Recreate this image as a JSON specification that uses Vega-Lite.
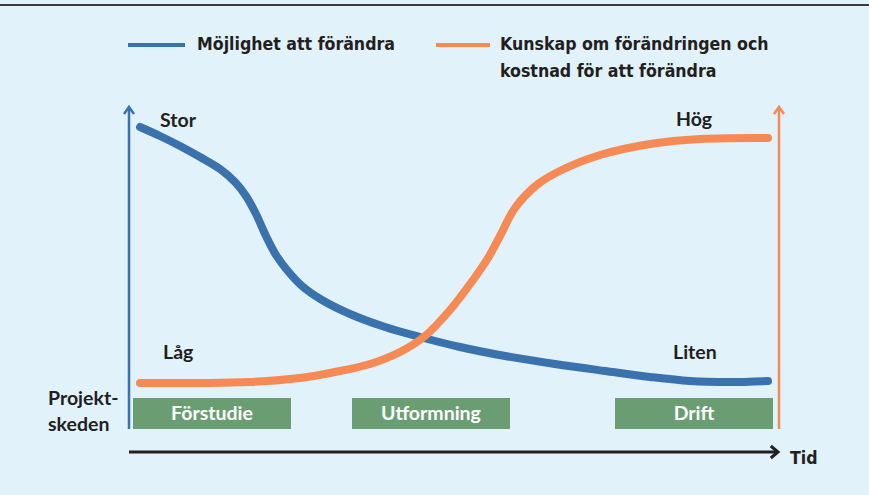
{
  "$schema": "https://vega.github.io/schema/vega-lite/v6.json",
  "width": 869,
  "height": 495,
  "padding": 0,
  "autosize": {"type": "none"},
  "background": "#e1f2fa",
  "config": {"view": {"stroke": null}},
  "encoding": {
    "x": {"field": "x", "type": "quantitative", "scale": {"domain": [0, 869], "range": [0, 869], "nice": false, "zero": false}, "axis": null},
    "y": {"field": "y", "type": "quantitative", "scale": {"domain": [0, 495], "range": [0, 495], "nice": false, "zero": false}, "axis": null}
  },
  "layer": [
    {
      "data": {"values": [{"x": 0, "x2": 869, "y": 5}]},
      "mark": {"type": "rule", "color": "#3a3a3a", "strokeWidth": 2},
      "encoding": {"x2": {"field": "x2"}}
    },
    {
      "data": {"values": [
        {"x": 129, "y": 429, "y2": 109, "c": "Möjlighet"},
        {"x": 779, "y": 429, "y2": 109, "c": "Kunskap"}
      ]},
      "mark": {"type": "rule", "strokeWidth": 2.5},
      "encoding": {
        "y2": {"field": "y2"},
        "color": {"field": "c", "type": "nominal", "scale": {"domain": ["Möjlighet", "Kunskap"], "range": ["#3a72ad", "#f78a54"]}, "legend": null}
      }
    },
    {
      "data": {"values": [
        {"x": 129, "y": 107, "c": "Möjlighet"},
        {"x": 779, "y": 107, "c": "Kunskap"}
      ]},
      "mark": {"type": "point", "shape": "M-1,1.4L0,0L1,1.4", "filled": false, "size": 100, "strokeWidth": 2.5, "opacity": 1},
      "encoding": {
        "stroke": {"field": "c", "type": "nominal", "scale": {"domain": ["Möjlighet", "Kunskap"], "range": ["#3a72ad", "#f78a54"]}, "legend": null}
      }
    },
    {
      "data": {"values": [{"x": 129, "x2": 777, "y": 452}]},
      "mark": {"type": "rule", "color": "#231f20", "strokeWidth": 3},
      "encoding": {"x2": {"field": "x2"}}
    },
    {
      "data": {"values": [{"x": 778, "y": 452}]},
      "mark": {"type": "point", "shape": "M-1.2,-1L0,0L-1.2,1", "filled": false, "size": 144, "strokeWidth": 3, "color": "#231f20", "opacity": 1}
    },
    {
      "data": {"values": [
        {"x": 133, "x2": 291, "y": 398, "y2": 429, "label": "Förstudie"},
        {"x": 352, "x2": 510, "y": 398, "y2": 429, "label": "Utformning"},
        {"x": 615, "x2": 773, "y": 398, "y2": 429, "label": "Drift"}
      ]},
      "layer": [
        {
          "mark": {"type": "rect", "fill": "#6a9e72"},
          "encoding": {"x2": {"field": "x2"}, "y2": {"field": "y2"}}
        },
        {
          "transform": [{"calculate": "(datum.x + datum.x2) / 2", "as": "xc"}, {"calculate": "(datum.y + datum.y2) / 2", "as": "yc"}],
          "mark": {"type": "text", "font": "Lato", "fontWeight": "bold", "fontSize": 19.5, "color": "#ffffff", "align": "center", "baseline": "middle"},
          "encoding": {
            "x": {"field": "xc", "type": "quantitative"},
            "y": {"field": "yc", "type": "quantitative"},
            "text": {"field": "label"}
          }
        }
      ]
    },
    {
      "data": {"values": [
        {"s": "Möjlighet", "x": 140, "y": 127},
        {"s": "Möjlighet", "x": 160, "y": 136},
        {"s": "Möjlighet", "x": 180, "y": 146},
        {"s": "Möjlighet", "x": 200, "y": 157},
        {"s": "Möjlighet", "x": 220, "y": 169},
        {"s": "Möjlighet", "x": 235, "y": 182},
        {"s": "Möjlighet", "x": 246, "y": 196},
        {"s": "Möjlighet", "x": 256, "y": 214},
        {"s": "Möjlighet", "x": 266, "y": 236},
        {"s": "Möjlighet", "x": 276, "y": 255},
        {"s": "Möjlighet", "x": 287, "y": 270},
        {"s": "Möjlighet", "x": 302, "y": 286},
        {"s": "Möjlighet", "x": 322, "y": 300},
        {"s": "Möjlighet", "x": 350, "y": 314},
        {"s": "Möjlighet", "x": 385, "y": 327},
        {"s": "Möjlighet", "x": 420, "y": 337},
        {"s": "Möjlighet", "x": 460, "y": 347},
        {"s": "Möjlighet", "x": 505, "y": 356},
        {"s": "Möjlighet", "x": 555, "y": 364},
        {"s": "Möjlighet", "x": 605, "y": 371},
        {"s": "Möjlighet", "x": 650, "y": 377},
        {"s": "Möjlighet", "x": 690, "y": 381},
        {"s": "Möjlighet", "x": 730, "y": 382},
        {"s": "Möjlighet", "x": 768, "y": 381},
        {"s": "Kunskap", "x": 140, "y": 383},
        {"s": "Kunskap", "x": 200, "y": 383},
        {"s": "Kunskap", "x": 250, "y": 382},
        {"s": "Kunskap", "x": 300, "y": 378},
        {"s": "Kunskap", "x": 335, "y": 372},
        {"s": "Kunskap", "x": 370, "y": 364},
        {"s": "Kunskap", "x": 400, "y": 352},
        {"s": "Kunskap", "x": 425, "y": 336},
        {"s": "Kunskap", "x": 450, "y": 310},
        {"s": "Kunskap", "x": 473, "y": 280},
        {"s": "Kunskap", "x": 488, "y": 258},
        {"s": "Kunskap", "x": 500, "y": 236},
        {"s": "Kunskap", "x": 515, "y": 208},
        {"s": "Kunskap", "x": 538, "y": 184},
        {"s": "Kunskap", "x": 568, "y": 167},
        {"s": "Kunskap", "x": 600, "y": 155},
        {"s": "Kunskap", "x": 650, "y": 144},
        {"s": "Kunskap", "x": 700, "y": 139},
        {"s": "Kunskap", "x": 768, "y": 138}
      ]},
      "mark": {"type": "line", "interpolate": "catmull-rom", "strokeWidth": 8, "strokeCap": "round", "strokeJoin": "round"},
      "encoding": {
        "color": {"field": "s", "type": "nominal", "scale": {"domain": ["Möjlighet", "Kunskap"], "range": ["#3a72ad", "#f78a54"]}, "legend": null}
      }
    },
    {
      "data": {"values": [
        {"x": 160, "y": 121, "t": "Stor"},
        {"x": 676, "y": 120, "t": "Hög"},
        {"x": 163, "y": 353, "t": "Låg"},
        {"x": 673, "y": 353, "t": "Liten"},
        {"x": 48, "y": 399, "t": "Projekt-"},
        {"x": 48, "y": 425, "t": "skeden"}
      ]},
      "mark": {"type": "text", "font": "Lato", "fontWeight": "bold", "fontSize": 19.5, "color": "#231f20", "align": "left", "baseline": "middle"},
      "encoding": {"text": {"field": "t"}}
    },
    {
      "data": {"values": [
        {"x": 128, "x2": 185, "y": 45, "c": "Möjlighet"},
        {"x": 436, "x2": 490, "y": 45, "c": "Kunskap"}
      ]},
      "mark": {"type": "rule", "strokeWidth": 4},
      "encoding": {
        "x2": {"field": "x2"},
        "color": {"field": "c", "type": "nominal", "scale": {"domain": ["Möjlighet", "Kunskap"], "range": ["#3a72ad", "#f78a54"]}, "legend": null}
      }
    },
    {
      "data": {"values": [
        {"x": 197, "y": 45, "t": "Möjlighet att förändra"},
        {"x": 500, "y": 45, "t": "Kunskap om förändringen och"},
        {"x": 500, "y": 72, "t": "kostnad för att förändra"},
        {"x": 790, "y": 459, "t": "Tid"}
      ]},
      "mark": {"type": "text", "font": "DejaVu Sans Condensed, Roboto, sans-serif", "fontWeight": "bold", "fontSize": 17.6, "color": "#231f20", "align": "left", "baseline": "middle"},
      "encoding": {"text": {"field": "t"}}
    }
  ]
}
